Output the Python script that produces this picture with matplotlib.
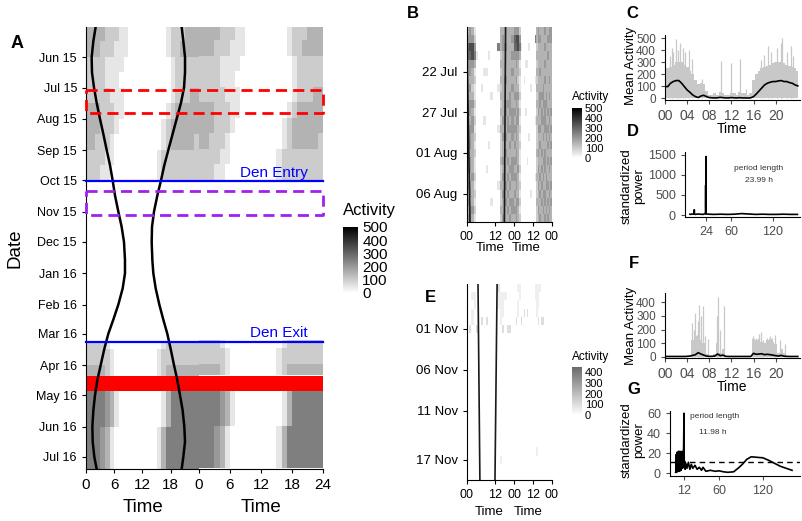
import matplotlib
matplotlib.use('Agg')
import matplotlib.pyplot as plt
import matplotlib.dates as mdates
from matplotlib.colors import LinearSegmentedColormap
import numpy as np
import pandas as pd

plt.rcParams['font.family'] = ['Liberation Sans', 'DejaVu Sans']

# ---------------- data ----------------
# panel A: blocks of days with an hourly activity profile (digit * 50 = activity)
a_starts = ['2015-05-02', '2015-05-16', '2015-06-01', '2015-06-16', '2015-07-01',
            '2015-07-16', '2015-08-01', '2015-08-16', '2015-09-01', '2015-09-16',
            '2015-10-02', '2016-03-08', '2016-03-16', '2016-04-01', '2016-04-12',
            '2016-04-26', '2016-05-16', '2016-06-01', '2016-06-16', '2016-07-01']
a_end = '2016-07-13'
a_profiles = [
    '3333 2221 1000 0000 0122 2333',
    '3332 2211 1000 0000 0122 3333',
    '2222 1111 0000 0000 0012 2222',
    '2222 1110 0000 0000 0012 2222',
    '2222 2111 0000 0000 0012 2233',
    '3332 2211 0000 0000 0123 3333',
    '3332 2210 0000 0000 1233 3333',
    '3322 2100 0000 0000 1233 3332',
    '2222 1100 0000 0001 2222 2222',
    '2221 1000 0000 0001 2222 2222',
    '0000 0000 0000 0000 0000 0000',
    '2222 1000 0000 0000 1222 2222',
    '2222 2100 0000 0001 2222 2222',
    '3333 2100 0000 0001 2333 3333',
    '0000 0000 0000 0000 0000 0000',
    '5555 4310 0000 0000 1355 5555',
    '5555 4310 0000 0000 1355 5555',
    '5554 3100 0000 0001 3555 5555',
    '5554 3100 0000 0001 3555 5555',
    '5554 3100 0000 0001 3555 5555',
]
sun_dates = ['2015-05-02', '2015-05-16', '2015-06-01', '2015-06-16', '2015-07-01',
             '2015-07-16', '2015-08-01', '2015-08-16', '2015-09-01', '2015-09-16',
             '2015-10-01', '2015-10-16', '2015-11-01', '2015-11-16', '2015-12-01',
             '2015-12-19', '2016-01-01', '2016-01-16', '2016-02-01', '2016-02-16',
             '2016-03-01', '2016-03-16', '2016-04-01', '2016-04-16', '2016-05-01',
             '2016-05-16', '2016-06-01', '2016-06-16', '2016-07-01', '2016-07-13']
sunrise = [2.05, 1.56, 1.2, 1.27, 1.7, 2.26, 2.97, 3.68, 4.4, 5.1,
           5.66, 6.16, 6.87, 7.57, 8.07, 8.28, 8.28, 7.79, 6.87, 5.8,
           4.74, 3.89, 3.12, 2.41, 1.91, 1.56, 1.35, 1.42, 1.77, 2.26]
sunset = [20.32, 20.67, 21.03, 21.03, 20.82, 20.18, 19.26, 18.4, 17.48, 16.63,
          15.93, 15.15, 14.44, 14.02, 13.95, 14.09, 14.3, 14.8, 15.57, 16.42,
          17.27, 17.98, 18.69, 19.4, 19.97, 20.53, 20.88, 21.03, 20.67, 20.32]
den_entry = '2015-10-02'
den_exit = '2016-03-09'
box_red = ('2015-07-03', '2015-07-26')
box_purple = ('2015-10-12', '2015-11-04')
gap_red = ('2016-04-12', '2016-04-27')

# panel B: one row per day (Jul 17 - Aug 10), 24 hourly values (digit * 50)
b_first_day = '2015-07-17'
b_days = [
    '343100 000000 003333 333334',
    '444200 000000 003433 343344',
    '677400 000000 053443 333444',
    '667510 000100 002333 343333',
    '444300 000000 003333 333433',
    '343100 011000 002333 343333',
    '333200 000000 003343 333333',
    '342100 100000 012333 343343',
    '333100 000010 003333 433333',
    '444200 000000 002344 434343',
    '343100 000000 003343 444333',
    '434200 010000 002434 343434',
    '344100 000000 013334 443343',
    '443200 000000 002443 344434',
    '343100 000100 002333 434343',
    '433200 000000 002343 333434',
    '343100 000000 003434 343333',
    '443100 001000 002333 443434',
    '334200 000000 002434 343343',
    '443100 000000 013343 434333',
    '343200 000000 002434 334434',
    '433100 000010 002343 443343',
    '344200 000000 003334 343434',
    '443100 000000 002433 434343',
    '343200 000000 002343 343433',
]
b_line_dates = ['2015-07-16 12:00', '2015-08-09 12:00']
b_sunrise = [0.0, 1.4]
b_sunset = [16.5, 16.0]

# panel E: one row per day (Oct 27 - Nov 20)
e_first_day = '2015-10-27'
e_days = [
    '000000 000000 020000 000000',
    '001100 000000 011110 000000',
    '000100 000000 011100 000000',
    '001000 000000 001100 000000',
    '001000 202000 001000 000000',
    '020020 000000 000202 200000',
] + ['000000 000000 000000 000000'] * 15 + [
    '000000 000000 001000 000000',
    '000000 000000 000000 000000',
    '000000 000000 000000 000000',
    '000000 000000 000000 000000',
]
e_line_dates = ['2015-10-26 12:00', '2015-11-19 12:00']
e_sunrise = [4.8, 5.6]
e_sunset = [12.9, 12.0]

# panels C and F: mean activity by half hour
half_hours = np.arange(0, 24.01, 0.5)
c_fill = [220, 250, 260, 280, 300, 300, 300, 280, 260, 230,
          200, 150, 120, 130, 120, 60, 30, 30, 40, 30,
          50, 40, 30, 30, 40, 40, 30, 50, 40, 40,
          30, 40, 150, 200, 230, 250, 260, 270, 280, 290,
          300, 300, 300, 290, 280, 270, 260, 250, 230]
c_mean = [97, 97, 125, 139, 147, 147, 125, 97, 69, 50,
          28, 14, 6, 19, 25, 14, 6, 4, 3, 4,
          8, 5, 3, 3, 6, 4, 3, 5, 3, 3,
          2, 4, 14, 36, 61, 86, 111, 125, 133, 139,
          139, 144, 147, 139, 139, 130, 125, 111, 103]
c_spike_t = [0.9, 1.2, 1.5, 1.95, 2.3, 2.8, 3.2, 3.6, 4.4, 4.8, 6.6, 10.2, 12.0,
             13.5, 14.6, 17.3, 17.9, 18.7, 19.2, 20.2, 20.9, 21.2, 22.0, 22.7, 23.2]
c_spike_v = [350, 420, 380, 490, 400, 460, 420, 380, 400, 330, 160, 310, 290,
             330, 80, 320, 360, 430, 380, 420, 460, 500, 380, 430, 350]

f_fill = [0, 0, 0, 0, 0, 0, 0, 0, 0, 0,
          120, 150, 160, 120, 100, 20, 0, 0, 20, 100,
          30, 60, 0, 0, 0, 0, 0, 0, 0, 0,
          0, 0, 130, 120, 130, 110, 100, 120, 130, 110,
          90, 30, 60, 30, 0, 0, 0, 0, 0]
f_mean = [2, 2, 2, 2, 2, 2, 2, 2, 3, 5,
          10, 15, 30, 20, 12, 5, 3, 3, 5, 20,
          8, 12, 3, 2, 2, 2, 2, 2, 2, 2,
          2, 2, 25, 18, 20, 22, 15, 18, 15, 12,
          8, 5, 10, 4, 3, 2, 2, 2, 2]
f_spike_t = [4.9, 5.2, 5.5, 5.9, 6.1, 6.5, 6.9, 7.3, 7.7, 9.4, 9.6, 10.0, 10.6,
             15.9, 16.4, 16.9, 17.3, 17.8, 18.5, 19.0, 19.4, 19.9, 20.8, 21.7]
f_spike_v = [250, 200, 320, 260, 380, 300, 370, 150, 130, 300, 440, 200, 370,
             150, 140, 170, 180, 120, 140, 150, 140, 160, 120, 90]

# panels D and G: periodograms
d_period = [1, 2, 4, 6, 7, 7.3, 7.6, 9, 12, 16, 20, 22, 23.3, 23.6, 23.8, 23.99,
            24.2, 25, 28, 35, 45, 55, 65, 75, 85, 95, 105, 115, 125, 135, 145, 155]
d_power = [20, 15, 25, 20, 30, 130, 25, 15, 25, 20, 15, 30, 30, 740, 200, 1450,
           30, 25, 20, 15, 20, 15, 20, 35, 25, 15, 20, 15, 15, 20, 15, 15]
g_period = [0.5, 1, 1.5, 2, 2.5, 3, 3.5, 4, 4.5, 5, 5.5, 6, 6.5, 7, 7.5, 8, 8.5,
            9, 9.5, 10, 10.5, 11, 11.5, 11.98, 12.3, 12.8, 13.5, 14.5, 16, 18, 20,
            22, 24, 27, 30, 33, 36, 38, 42, 48, 55, 60, 66, 72, 80, 86, 92, 98,
            104, 112, 120, 128, 136, 144, 152, 160]
g_power = [1, 3, 19, 1, 21, 4, 20, 2, 22, 5, 18, 2, 22, 4, 21, 3, 20,
           6, 22, 5, 21, 8, 29, 60, 6, 12, 4, 10, 5, 11, 4,
           9, 5, 8, 4, 6, 3, 6, 2, 3, 2, 2.5, 1.5, 1, 1.5, 5, 9, 14,
           16.5, 16, 15.5, 13, 10, 7, 5, 3]
g_threshold = 11.5

# ---------------- figure ----------------
W, H = 803, 521
fig = plt.figure(figsize=(W / 100, H / 100), dpi=100)


def add_ax(x0, y0, x1, y1):
    return fig.add_axes([x0 / W, 1 - y1 / H, (x1 - x0) / W, (y1 - y0) / H])


def ftext(x, y, s, **kw):
    fig.text(x / W, 1 - y / H, s, **kw)


def to_matrix(rows):
    return np.array([[int(c) * 50 for c in r.replace(' ', '')] for r in rows], dtype=float)


def classic(ax, left=True):
    for s in ['top', 'right']:
        ax.spines[s].set_visible(False)
    if not left:
        ax.spines['left'].set_visible(False)
        ax.tick_params(axis='y', left=False, labelleft=False)
    ax.tick_params(length=3, width=0.8)


num = lambda s: mdates.date2num(pd.Timestamp(s))
grey = LinearSegmentedColormap.from_list('act', ['white', 'black'])
grey_e = LinearSegmentedColormap.from_list('act_e', ['white', '#6a6a6a'])

# ---- panel A ----
a_mat = to_matrix(a_profiles)
a_edges = np.array([num(s) for s in a_starts + [a_end]])
a_top, a_bot = num('2015-05-02'), num('2016-07-13')
hour_edges = np.arange(25)

ax_a1 = add_ax(86, 27, 199, 469)
ax_a2 = add_ax(199, 27, 323, 469)
for k, ax in enumerate([ax_a1, ax_a2]):
    mesh_a = ax.pcolormesh(hour_edges, a_edges - k, a_mat, cmap=grey, vmin=0, vmax=500,
                           shading='flat', zorder=1)
    ax.axhspan(num(gap_red[0]), num(gap_red[1]), color='#ff0000', lw=0, zorder=2)
    ax.set_xlim(0, 24)
    ax.set_ylim(a_bot, a_top)
    classic(ax, left=(k == 0))
    ax.tick_params(axis='x', labelsize=11)
ax_a1.set_xticks([0, 6, 12, 18])
ax_a2.set_xticks([0, 6, 12, 18, 24])
ax_a1.yaxis.set_major_locator(mdates.MonthLocator())
ax_a1.yaxis.set_major_formatter(mdates.DateFormatter('%b %y'))
ax_a1.tick_params(axis='y', labelsize=9)
sd = [num(s) for s in sun_dates]
ax_a1.plot(sunrise, sd, color='black', lw=1.8, zorder=3)
ax_a1.plot(sunset, sd, color='black', lw=1.8, zorder=3)

ov = add_ax(86, 27, 323, 469)
ov.set_ylim(a_bot, a_top)
ov.set_xlim(0, 1)
ov.axis('off')
tr = ov.get_yaxis_transform()
for (t0, t1), col in [(box_red, '#ff0000'), (box_purple, '#a020f0')]:
    y0, y1 = num(t0), num(t1)
    ov.plot([0, 1, 1, 0, 0], [y0, y0, y1, y1, y0], transform=tr, color=col, lw=2,
            dashes=(4, 2.2), clip_on=False)
for d, lab in [(den_entry, 'Den Entry'), (den_exit, 'Den Exit')]:
    ov.plot([0, 1], [num(d), num(d)], transform=tr, color='#0000ff', lw=1.6, clip_on=False)
    ov.text(0.937, num(d) - 1.5, lab, transform=tr, color='#0000ff', fontsize=11,
            ha='right', va='bottom')

cax_a = add_ax(343, 227, 358, 293)
cb = fig.colorbar(mesh_a, cax=cax_a, ticks=[0, 100, 200, 300, 400, 500])
cb.outline.set_visible(False)
cb.ax.tick_params(length=0, labelsize=11, pad=3)
ftext(343, 211, 'Activity', fontsize=12, va='center')

ftext(15, 248, 'Date', fontsize=13.5, rotation=90, ha='center', va='center')
ftext(143, 508, 'Time', fontsize=13.5, ha='center', va='center')
ftext(261, 508, 'Time', fontsize=13.5, ha='center', va='center')


# ---- panels B and E ----
def actogram(box_l, box_r, rows, first_day, line_dates, rise, sett, cmap, vmax,
             yticks, cbar_box, cticks, title_xy, time_xy):
    mat = to_matrix(rows)
    start = num(first_day)
    n = mat.shape[0] - 1
    y_edges = start - 0.5 + np.arange(n + 1)
    axl = add_ax(*box_l)
    axr = add_ax(*box_r)
    m = axl.pcolormesh(hour_edges, y_edges, mat[:n], cmap=cmap, vmin=0, vmax=vmax)
    axr.pcolormesh(hour_edges, y_edges, mat[1:], cmap=cmap, vmin=0, vmax=vmax)
    ld = [num(s) for s in line_dates]
    axl.plot(rise, ld, color='#1a1a1a', lw=1.2)
    axl.plot(sett, ld, color='#1a1a1a', lw=1.2)
    axl.set_xlim(0, 20.2)
    axr.set_xlim(0, 24)
    axl.set_xticks([0, 12])
    axl.set_xticklabels(['00', '12'])
    axr.set_xticks([0, 12, 24])
    axr.set_xticklabels(['00', '12', '00'])
    for k, ax in enumerate([axl, axr]):
        ax.set_ylim(y_edges[-1], y_edges[0])
        classic(ax, left=(k == 0))
        ax.tick_params(axis='x', labelsize=9)
    axl.set_yticks([num(s) for s in yticks])
    axl.yaxis.set_major_formatter(mdates.DateFormatter('%d %b'))
    axl.tick_params(axis='y', labelsize=9.5)
    cax = add_ax(*cbar_box)
    c = fig.colorbar(m, cax=cax, ticks=cticks)
    c.outline.set_visible(False)
    c.ax.tick_params(length=0, labelsize=8, pad=2)
    ftext(title_xy[0], title_xy[1], 'Activity', fontsize=8.5, va='center')
    for x in time_xy[0]:
        ftext(x, time_xy[1], 'Time', fontsize=9.5, ha='center', va='center')


actogram((466.7, 27, 514.3, 222), (514.3, 27, 552, 222), b_days, b_first_day,
         b_line_dates, b_sunrise, b_sunset, grey, 500,
         ['2015-07-22', '2015-07-27', '2015-08-01', '2015-08-06'],
         (572, 108, 582, 158), [0, 100, 200, 300, 400, 500], (572, 97),
         ([490, 526], 248))
actogram((466.7, 284, 514.3, 480), (514.3, 284, 552, 480), e_days, e_first_day,
         e_line_dates, e_sunrise, e_sunset, grey_e, 450,
         ['2015-11-01', '2015-11-06', '2015-11-11', '2015-11-17'],
         (572, 367, 582, 415), [0, 100, 200, 300, 400], (572, 357),
         ([489, 528], 512))


# ---- panels C and F ----
def mean_panel(box, fill, mean, sp_t, sp_v, ylim, yticks, label_y, time_y):
    ax = add_ax(*box)
    ax.fill_between(half_hours, 0, fill, step='mid', color='#c8c8c8', lw=0)
    ax.vlines(sp_t, 0, sp_v, color='#c8c8c8', lw=0.9)
    ax.plot(half_hours, mean, color='black', lw=1.2)
    ax.set_xlim(0, 24.4)
    ax.set_ylim(*ylim)
    ax.set_xticks(range(0, 24, 4))
    ax.set_xticklabels(['%02d' % h for h in range(0, 24, 4)])
    ax.set_yticks(yticks)
    classic(ax)
    ax.tick_params(axis='x', labelsize=10, colors='#4d4d4d')
    ax.tick_params(axis='y', labelsize=8.5, colors='#4d4d4d')
    ftext(631, label_y, 'Mean Activity', fontsize=9.5, rotation=90, ha='center',
          va='center')
    ftext(732, time_y, 'Time', fontsize=10, ha='center', va='center')


mean_panel((665, 35, 800, 99.5), c_fill, c_mean, c_spike_t, c_spike_v, (-10, 525),
           [0, 100, 200, 300, 400, 500], 66, 129)
mean_panel((665, 293.3, 800, 357.7), f_fill, f_mean, f_spike_t, f_spike_v, (-7, 466),
           [0, 100, 200, 300, 400], 326, 387)


# ---- panels D and G ----
def period_panel(box, per, pw, xlim, ylim, xticks, yticks, label_y, txt, txt_xy,
                 thresh=None):
    ax = add_ax(*box)
    if thresh is not None:
        ax.axhline(thresh, color='black', lw=1, ls=(0, (4, 3)))
    ax.plot(per, pw, color='black', lw=1.2)
    ax.set_xlim(*xlim)
    ax.set_ylim(*ylim)
    ax.set_xticks(xticks)
    ax.set_yticks(yticks)
    classic(ax)
    ax.tick_params(labelsize=9, colors='#4d4d4d')
    ftext(633, label_y, 'standardized\npower', fontsize=9.5, rotation=90, ha='center',
          va='center', linespacing=1.0)
    ftext(txt_xy[0][0], txt_xy[0][1], 'period length', fontsize=6, ha='center',
          va='center', color='#333333')
    ftext(txt_xy[1][0], txt_xy[1][1], txt, fontsize=6, ha='center', va='center',
          color='#333333')


period_panel((685, 151.7, 800, 217.3), d_period, d_power, (-6, 158.7), (-57, 1570),
             [24, 60, 120], [0, 500, 1000, 1500], 186, '23.99 h',
             ((759, 168), (759, 181)))
period_panel((670, 411, 800, 476), g_period, g_power, (-7.2, 170.9), (-2.7, 62.3),
             [12, 60, 120], [0, 20, 40, 60], 440, '11.98 h',
             ((715, 417), (713, 433)), thresh=g_threshold)

# ---- panel letters ----
for lab, x, y, s in [('A', 17, 43, 13), ('B', 413, 13, 12), ('C', 632, 13, 12),
                     ('D', 633, 131, 12), ('E', 430, 297, 12), ('F', 634, 263, 12),
                     ('G', 634, 389, 12)]:
    ftext(x, y, lab, fontsize=s, fontweight='bold', ha='center', va='center')

fig.savefig('out.png', dpi=100)
